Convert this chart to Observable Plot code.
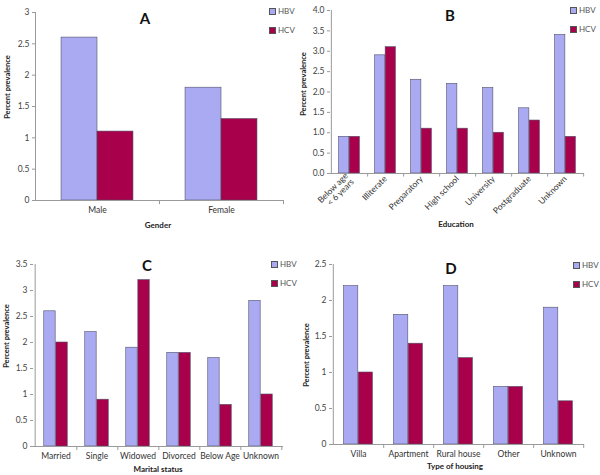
<!DOCTYPE html>
<html><head><meta charset="utf-8">
<script src="https://cdn.jsdelivr.net/npm/d3@7"></script>
<script src="https://cdn.jsdelivr.net/npm/@observablehq/plot@0.6"></script>
<style>
body{margin:0;background:#fff;}
#root{position:relative;width:600px;height:475px;font-family:Lato,"Open Sans",sans-serif;overflow:hidden;background:#fff;}
.panel{position:absolute;}
.title{position:absolute;font-weight:bold;font-size:15px;transform:translate(-50%,-50%);color:#111;}
.xlab{position:absolute;font-weight:bold;font-size:8px;transform:translate(-50%,-50%);color:#222;white-space:nowrap;}
.ylab{position:absolute;font-weight:bold;font-size:7.5px;transform:translate(-50%,-50%) rotate(-90deg);color:#222;white-space:nowrap;}
.leg{position:absolute;font-size:8px;color:#555;display:flex;align-items:center;line-height:8px;}
.sw{width:5px;height:5px;border:1px solid #555;margin-right:2px;}
</style></head><body><div id="root"></div>
<script>
const series = ["HBV", "HCV"];
const seriesColors = ["#aaaaf2", "#a8004a"];

const catsA = ["Male", "Female"];
const hbvA = [2.6, 1.8];
const hcvA = [1.1, 1.3];
const ticksA = [0, 0.5, 1, 1.5, 2, 2.5, 3];

const catsB = ["Below age\n< 6 years", "Illiterate", "Preparatory", "High school", "University", "Postgraduate", "Unknown"];
const hbvB = [0.9, 2.9, 2.3, 2.2, 2.1, 1.6, 3.4];
const hcvB = [0.9, 3.1, 1.1, 1.1, 1.0, 1.3, 0.9];
const ticksB = [0, 0.5, 1, 1.5, 2, 2.5, 3, 3.5, 4];

const catsC = ["Married", "Single", "Widowed", "Divorced", "Below Age", "Unknown"];
const hbvC = [2.6, 2.2, 1.9, 1.8, 1.7, 2.8];
const hcvC = [2.0, 0.9, 3.2, 1.8, 0.8, 1.0];
const ticksC = [0, 0.5, 1, 1.5, 2, 2.5, 3, 3.5];

const catsD = ["Villa", "Apartment", "Rural house", "Other", "Unknown"];
const hbvD = [2.2, 1.8, 2.2, 0.8, 1.9];
const hcvD = [1.0, 1.4, 1.2, 0.8, 0.6];
const ticksD = [0, 0.5, 1, 1.5, 2, 2.5];

const panels = [
  {cats: catsA, hbv: hbvA, hcv: hcvA, ticks: ticksA, fmt: null, rot: 0, title: "A", xlabel: "Gender",
   left: 0, top: 0, H: 235, mL: 35, mR: 17, mT: 12, mB: 35,
   tpos: [145, 18], leg: [269, 11, 30], ypos: [7, 87], xpos: [158, 225]},
  {cats: catsB, hbv: hbvB, hcv: hcvB, ticks: ticksB, fmt: ".1f", rot: -45, title: "B", xlabel: "Education",
   left: 300, top: 0, H: 235, mL: 30, mR: 16, mT: 10, mB: 62,
   tpos: [450, 15], leg: [570, 10, 29], ypos: [303, 84], xpos: [456, 224]},
  {cats: catsC, hbv: hbvC, hcv: hcvC, ticks: ticksC, fmt: null, rot: 0, title: "C", xlabel: "Marital status",
   left: 0, top: 235, H: 240, mL: 33, mR: 17, mT: 29, mB: 29,
   tpos: [147, 265], leg: [271, 264, 283], ypos: [6, 336], xpos: [158, 469]},
  {cats: catsD, hbv: hbvD, hcv: hcvD, ticks: ticksD, fmt: null, rot: 0, title: "D", xlabel: "Type of housing",
   left: 300, top: 235, H: 240, mL: 32, mR: 16, mT: 29, mB: 31,
   tpos: [451, 268], leg: [573, 265, 284], ypos: [306, 355], xpos: [455, 466]}
];

const root = document.getElementById("root");
const W = 300, p = 0.42;

function addDiv(cls, x, y, html) {
  const d = document.createElement("div");
  d.className = cls;
  d.style.left = x + "px";
  d.style.top = y + "px";
  d.innerHTML = html;
  root.appendChild(d);
  return d;
}

for (const P of panels) {
  const n = P.cats.length;
  const rowsHBV = P.cats.map((c, i) => ({cat: c, s: series[0], v: P.hbv[i]}));
  const rowsHCV = P.cats.map((c, i) => ({cat: c, s: series[1], v: P.hcv[i]}));
  const step = (W - P.mL - P.mR) / n;
  const gap = p * step;
  const half = (1 - p) * step / 2;
  const ymax = P.ticks[P.ticks.length - 1];
  const fmt = P.fmt ? d3.format(P.fmt) : (d => String(d));
  const tickLen = -ymax * 0.022;
  const chart = Plot.plot({
    width: W, height: P.H,
    marginLeft: P.mL, marginRight: P.mR, marginTop: P.mT, marginBottom: P.mB,
    style: {fontFamily: "Lato, 'Open Sans', sans-serif", fontSize: "8.5px", color: "#444", background: "transparent"},
    x: {domain: P.cats, padding: 0, axis: null},
    y: {domain: [0, ymax], axis: null},
    color: {domain: series, range: seriesColors},
    marks: [
      Plot.barY(rowsHBV, {x: "cat", y: "v", fill: "s", stroke: "#50506a", strokeWidth: 0.6,
        insetLeft: gap / 2, insetRight: gap / 2 + half}),
      Plot.barY(rowsHCV, {x: "cat", y: "v", fill: "s", stroke: "#50506a", strokeWidth: 0.6,
        insetLeft: gap / 2 + half, insetRight: gap / 2}),
      Plot.ruleY([0], {stroke: "#9a9a9a"}),
      Plot.ruleX(P.cats, {x: d => d, y1: () => 0, y2: () => tickLen, dx: step / 2, stroke: "#9a9a9a"}),
      Plot.ruleX([P.cats[0]], {x: d => d, y1: () => 0, y2: () => ymax, dx: -step / 2, stroke: "#9a9a9a"}),
      Plot.axisY(P.ticks, {anchor: "left", tickSize: 3, tickPadding: 3, tickFormat: fmt, stroke: "#9a9a9a", fill: "#444", label: null}),
      Plot.axisX({anchor: "bottom", tickSize: 0, tickPadding: P.rot ? 4 : 6, tickRotate: P.rot, fill: "#333", label: null})
    ]
  });
  const wrap = document.createElement("div");
  wrap.className = "panel";
  wrap.style.left = P.left + "px";
  wrap.style.top = P.top + "px";
  wrap.appendChild(chart);
  root.appendChild(wrap);

  addDiv("title", P.tpos[0], P.tpos[1], P.title);
  addDiv("xlab", P.xpos[0], P.xpos[1], P.xlabel);
  addDiv("ylab", P.ypos[0], P.ypos[1], "Percent prevalence");
  series.forEach((s, k) => {
    addDiv("leg", P.leg[0], P.leg[1 + k] - 4, `<span class="sw" style="background:${seriesColors[k]}"></span>${s}`);
  });
}
</script></body></html>
